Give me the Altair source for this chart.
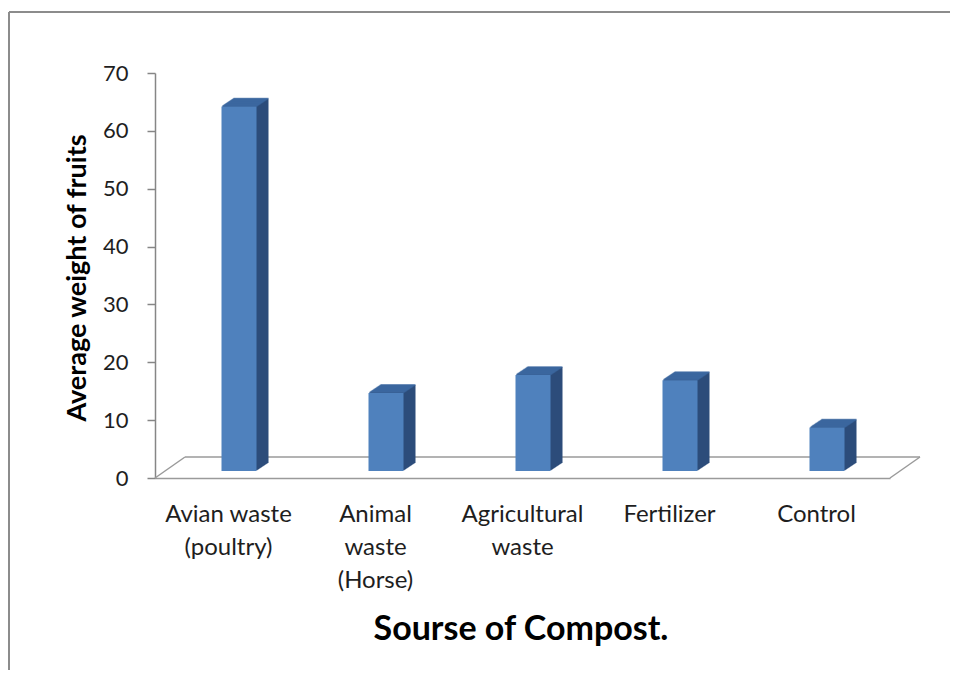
import altair as alt
import pandas as pd

# ---- data ----
categories = ["Avian waste|(poultry)", "Animal|waste|(Horse)", "Agricultural|waste", "Fertilizer", "Control"]
values = [63.0, 13.5, 16.6, 15.7, 7.5]
y_ticks = [0, 10, 20, 30, 40, 50, 60, 70]

df = pd.DataFrame({"source": categories, "weight": values})

# ---- layout / style ----
W, H = 735, 405
PAD = {"left": 147, "top": 65, "right": 60, "bottom": 192}
FLOOR_DX, FLOOR_DY = 30, 21
BAR_W, BAR_DX, BAR_DY = 35, 10.5, 7
SIDE_STEPS = 12
FONT = "Lato"
FRONT, TOP, SIDE = "#4f81bd", "#3d69a3", "#2c4d7b"
GRID_GREY = "#9a9a9a"

x_scale = alt.Scale(paddingInner=0, paddingOuter=0)
y_scale = alt.Scale(domain=[0, 70], nice=False)

x_axis = alt.Axis(
    title="Sourse of Compost.", labelExpr="split(datum.label, '|')",
    labelAngle=0, labelFont=FONT, labelFontSize=24, labelColor="#1e1e1e",
    labelLineHeight=33, labelPadding=24, labelLimit=300, ticks=False,
    domainColor=GRID_GREY, domainWidth=1.5,
    titleFont=FONT, titleFontSize=34, titleFontWeight="bold", titleColor="#000000",
    titleX=W / 2 - 2, titleY=151, titleBaseline="middle",
)
y_axis = alt.Axis(
    title="Average weight of fruits", values=y_ticks, grid=False,
    labelFont=FONT, labelFontSize=22, labelColor="#1e1e1e", labelPadding=19,
    tickSize=8, tickWidth=1.5, tickColor="#868686",
    domainColor="#868686", domainWidth=1.5,
    titleFont=FONT, titleFontSize=27, titleFontWeight="bold", titleColor="#000000",
    titleX=-78, titleY=H / 2 + 2, titleBaseline="middle", titleAngle=270,
)

base = alt.Chart(df)
X = alt.X("source:N", sort=categories, scale=x_scale, axis=x_axis)
Y = alt.Y("weight:Q", scale=y_scale, axis=y_axis)

layers = []

# frame (decorative)
frame_df = pd.DataFrame({"d": [0]})
layers.append(alt.Chart(frame_df).mark_rule(color="#8c8c8c", strokeWidth=2).encode(
    x=alt.value(-PAD["left"] + 1), y=alt.value(-PAD["top"] + 4), y2=alt.value(H + PAD["bottom"])))
layers.append(alt.Chart(frame_df).mark_rule(color="#8c8c8c", strokeWidth=2).encode(
    x=alt.value(-PAD["left"] + 1), x2=alt.value(W + PAD["right"]), y=alt.value(-PAD["top"] + 4)))

# floor (decorative 3D floor)
layers.append(alt.Chart(frame_df).mark_rule(color=GRID_GREY, strokeWidth=1.5).encode(
    x=alt.value(FLOOR_DX), x2=alt.value(W + FLOOR_DX), y=alt.value(H - FLOOR_DY)))
layers.append(alt.Chart(frame_df).mark_rule(color=GRID_GREY, strokeWidth=1.5).encode(
    x=alt.value(0), x2=alt.value(FLOOR_DX), y=alt.value(H), y2=alt.value(H - FLOOR_DY)))
layers.append(alt.Chart(frame_df).mark_rule(color=GRID_GREY, strokeWidth=1.5).encode(
    x=alt.value(W), x2=alt.value(W + FLOOR_DX), y=alt.value(H), y2=alt.value(H - FLOOR_DY)))

# side extrusion
for k in range(SIDE_STEPS, 0, -1):
    dy = k * 8 / SIDE_STEPS
    layers.append(base.mark_bar(width=BAR_W, color=SIDE, xOffset=BAR_DX + k,
                                yOffset=-BAR_DY - dy, y2Offset=-BAR_DY - dy).encode(x=X, y=Y))
# top face
for k in range(1, SIDE_STEPS + 1):
    dy = k * 8 / SIDE_STEPS
    layers.append(base.mark_tick(orient="horizontal", size=BAR_W, thickness=1.6, color=TOP,
                                 xOffset=BAR_DX + k, yOffset=-BAR_DY - dy).encode(x=X, y=Y))
# front face
layers.append(base.mark_bar(width=BAR_W, color=FRONT, xOffset=BAR_DX,
                            yOffset=-BAR_DY, y2Offset=-BAR_DY).encode(x=X, y=Y))

chart = alt.layer(*layers).properties(
    width=W, height=H, padding=PAD, autosize=alt.AutoSizeParams(type="none"),
    background="white",
).configure_view(stroke=None)

chart.save("out.html", embed_options={"renderer": "svg", "actions": False})
